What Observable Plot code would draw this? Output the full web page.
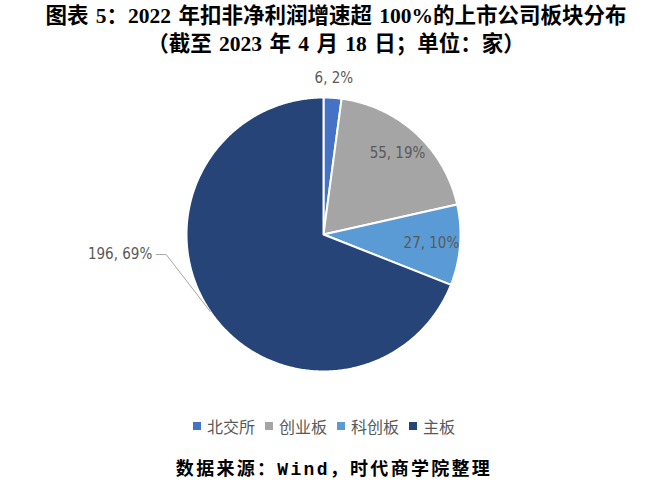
<!DOCTYPE html>
<html><head><meta charset="utf-8">
<script src="https://cdn.jsdelivr.net/npm/d3@7"></script>
<script src="https://cdn.jsdelivr.net/npm/@observablehq/plot@0.6"></script>
<style>
body{margin:0;background:#fff;width:664px;height:485px;overflow:hidden;}
.title{font-family:"Liberation Serif","Noto Sans CJK SC",serif;font-weight:bold;font-size:21.5px;word-spacing:2px;text-align:center;color:#000;line-height:28px;padding-top:2px;height:57px;padding-left:8px;}
#chart svg{display:block;}
#legend{display:flex;justify-content:center;align-items:center;height:20px;margin-top:12px;font-family:"Noto Sans CJK SC",sans-serif;font-size:16px;color:#595959;padding-right:16px;}
#legend .item{display:flex;align-items:center;margin:0 5px;}
#legend .sw{width:8px;height:8px;margin-right:6px;}
.source{font-family:"Liberation Mono","Noto Sans CJK SC",monospace;font-weight:bold;font-size:18px;letter-spacing:2.3px;text-align:center;color:#000;line-height:20px;margin-top:24px;padding-left:4px;}
</style></head><body>
<div class="title">图表 5：2022 年扣非净利润增速超 100%的上市公司板块分布<br>（截至 2023 年 4 月 18 日；单位：家）</div>
<div id="chart"></div>
<div id="legend"></div>
<div class="source">数据来源：Wind，时代商学院整理</div>
<script>
// ---- data ----
const categories = ["北交所", "创业板", "科创板", "主板"];
const counts = [6, 55, 27, 196];
// ---- style ----
const colors = ["#4472C4", "#A5A5A5", "#5B9BD5", "#264478"];

const W = 664, H = 345, R = 137;
const total = d3.sum(counts);
const pie = d3.pie().sort(null).value(d => d)(counts);

// slice polygons in data units (1 unit = 1 px)
const slicePts = [];
pie.forEach((p, i) => {
  const n = Math.max(2, Math.ceil((p.endAngle - p.startAngle) / 0.01));
  slicePts.push({cat: categories[i], x: 0, y: 0});
  for (let k = 0; k <= n; k++) {
    const a = p.startAngle + (p.endAngle - p.startAngle) * k / n;
    slicePts.push({cat: categories[i], x: R * Math.sin(a), y: R * Math.cos(a)});
  }
  slicePts.push({cat: categories[i], x: 0, y: 0});
});

const labelRadius = [1.14, 0.8, 0.79, null];
const labels = [];
const leader = [];
pie.forEach((p, i) => {
  const mid = (p.startAngle + p.endAngle) / 2;
  const pct = Math.round(counts[i] / total * 100);
  const text = `${counts[i]}, ${pct}%`;
  if (labelRadius[i] != null) {
    labels.push({text, x: R * labelRadius[i] * Math.sin(mid), y: R * labelRadius[i] * Math.cos(mid), anchor: "middle"});
  } else {
    const ex = R * Math.sin(mid), ey = R * Math.cos(mid);
    const bx = ex - 44, by = ey + 57;
    leader.push({x: ex, y: ey}, {x: bx, y: by}, {x: bx - 10, y: by});
    labels.push({text, x: bx - 14, y: by, anchor: "end"});
  }
});

const font = "Liberation Sans Narrow, DejaVu Sans Condensed, sans-serif";
const chart = Plot.plot({
  width: W, height: H, margin: 0,
  x: {domain: [-323, 341], axis: null},
  y: {domain: [-170, 175], axis: null},
  color: {domain: categories, range: colors},
  marks: [
    Plot.line(slicePts, {x: "x", y: "y", z: "cat", fill: "cat", stroke: "white", strokeWidth: 2, strokeLinejoin: "round", curve: "linear"}),
    Plot.line(leader, {x: "x", y: "y", stroke: "#A6A6A6", strokeWidth: 1}),
    Plot.text(labels.filter(d => d.anchor === "middle"), {x: "x", y: "y", text: "text", textAnchor: "middle", fill: "#595959", fontSize: 15, fontFamily: font}),
    Plot.text(labels.filter(d => d.anchor === "end"), {x: "x", y: "y", text: "text", textAnchor: "end", fill: "#595959", fontSize: 15, fontFamily: font})
  ]
});
document.getElementById("chart").appendChild(chart);

const lg = document.getElementById("legend");
categories.forEach((c, i) => {
  const it = document.createElement("div");
  it.className = "item";
  it.innerHTML = `<span class="sw" style="background:${colors[i]}"></span><span>${c}</span>`;
  lg.appendChild(it);
});
</script>
</body></html>
